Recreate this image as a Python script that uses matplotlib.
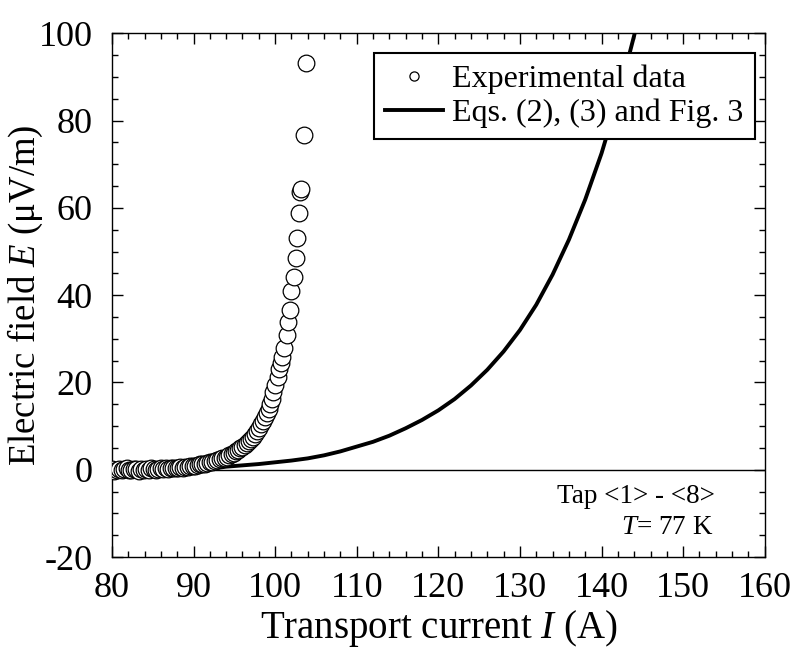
import matplotlib.pyplot as plt
from matplotlib.ticker import MultipleLocator

plt.rcParams['font.family'] = 'Liberation Serif'
plt.rcParams['mathtext.fontset'] = 'custom'
plt.rcParams['mathtext.rm'] = 'Liberation Serif'
plt.rcParams['mathtext.it'] = 'Liberation Serif:italic'
plt.rcParams['axes.unicode_minus'] = False

I_exp = [80.0, 80.3, 80.6, 80.9, 81.2, 81.5, 81.8, 82.1, 82.4, 82.7,
         83.0, 83.3, 83.6, 83.9, 84.2, 84.5, 84.8, 85.1, 85.4, 85.7,
         86.0, 86.3, 86.6, 86.9, 87.2, 87.5, 87.8, 88.1, 88.4, 88.7,
         89.0, 89.3, 89.6, 89.9, 90.2, 90.5, 90.8, 91.1, 91.4, 91.7,
         92.0, 92.3, 92.6, 92.9, 93.2, 93.5, 93.8, 94.1, 94.4, 94.7,
         95.0, 95.25, 95.5, 95.75, 96.0, 96.25, 96.5, 96.75, 97.0, 97.25,
         97.5, 97.75, 98.0, 98.25, 98.5, 98.75, 99.0, 99.2, 99.4, 99.6,
         99.8, 100.0, 100.3, 100.5, 100.7, 100.9, 101.1, 101.4, 101.6, 101.8,
         102.0, 102.3, 102.5, 102.7, 102.9, 103.0, 103.2, 103.6, 103.8]
E_exp = [0.1, -0.2, 0.0, 0.2, -0.1, 0.1, 0.3, -0.1, 0.0, 0.2,
         0.1, -0.2, 0.2, 0.0, 0.1, -0.1, 0.3, 0.1, 0.0, 0.2,
         0.3, 0.1, 0.4, 0.2, 0.3, 0.5, 0.3, 0.4, 0.6, 0.5,
         0.7, 0.6, 0.8, 0.9, 0.9, 1.1, 1.2, 1.3, 1.4, 1.5,
         1.7, 1.8, 2.0, 2.2, 2.4, 2.6, 2.8, 3.0, 3.3, 3.6,
         3.9, 4.2, 4.5, 4.9, 5.3, 5.7, 6.1, 6.6, 7.1, 7.6,
         8.2, 8.9, 9.6, 10.4, 11.2, 12.1, 13.1, 14.0, 15.0, 16.2,
         17.9, 19.5, 21.3, 23.0, 24.4, 25.9, 27.8, 30.8, 33.9, 36.7,
         41.0, 44.2, 48.4, 53.0, 58.9, 63.7, 64.4, 76.8, 93.3]

# model curve, Eqs. (2), (3) and Fig. 3
I_mod = [92.5, 94, 96, 98, 100, 102, 104, 106, 108, 110, 112, 114, 116, 118,
         120, 122, 124, 126, 128, 130, 132, 134, 136, 138, 140, 142, 144, 144.3]
E_mod = [0.3, 0.7, 1.0, 1.3, 1.7, 2.1, 2.6, 3.3, 4.2, 5.3, 6.4, 7.8, 9.5, 11.4,
         13.6, 16.2, 19.3, 22.9, 27.1, 32.0, 37.8, 44.7, 52.7, 61.9, 72.5, 85.0, 99.5, 102]

fig = plt.figure(figsize=(8.05, 6.53), dpi=100)
ax = fig.add_axes([0.139, 0.147, 0.811, 0.802])

ax.axhline(0, color='black', lw=1)
ax.plot(I_exp, E_exp, 'o', ms=12, mfc='white', mec='black', mew=0.9,
        label='Experimental data', zorder=3)
ax.plot(I_mod, E_mod, '-', color='black', lw=2.8,
        label='Eqs. (2), (3) and Fig. 3', zorder=2)

ax.set_xlim(80, 160)
ax.set_ylim(-20, 100)
ax.xaxis.set_major_locator(MultipleLocator(10))
ax.xaxis.set_minor_locator(MultipleLocator(2))
ax.yaxis.set_major_locator(MultipleLocator(20))
ax.yaxis.set_minor_locator(MultipleLocator(5))
ax.tick_params(which='both', direction='in', top=True, right=True, labelsize=26)
ax.tick_params(which='major', length=8, width=1)
ax.tick_params(which='minor', length=4, width=1)
ax.tick_params(axis='x', pad=11)
ax.tick_params(axis='y', pad=14)
for s in ax.spines.values():
    s.set_linewidth(1)

ax.set_xlabel('Transport current $\\mathit{I}$ (A)', fontsize=28, labelpad=2)
ax.set_ylabel('Electric field $\\mathit{E}$ (μV/m)', fontsize=26.5)
ax.yaxis.set_label_coords(-0.103, 0.5)

ax.text(0.923, 0.115, 'Tap <1> - <8>', transform=ax.transAxes,
        ha='right', va='center', fontsize=19.5)
ax.text(0.851, 0.057, '$\\mathit{T}$= 77 K', transform=ax.transAxes,
        ha='center', va='center', fontsize=19.5)

leg = ax.legend(loc='upper right', bbox_to_anchor=(0.985, 0.962), borderaxespad=0,
                fontsize=23, markerscale=0.55, handlelength=1.8, handletextpad=0.3,
                labelspacing=0.15, borderpad=0.35, fancybox=False, framealpha=1,
                edgecolor='black')
leg.get_frame().set_linewidth(1.5)

fig.savefig('out.png', dpi=100)
